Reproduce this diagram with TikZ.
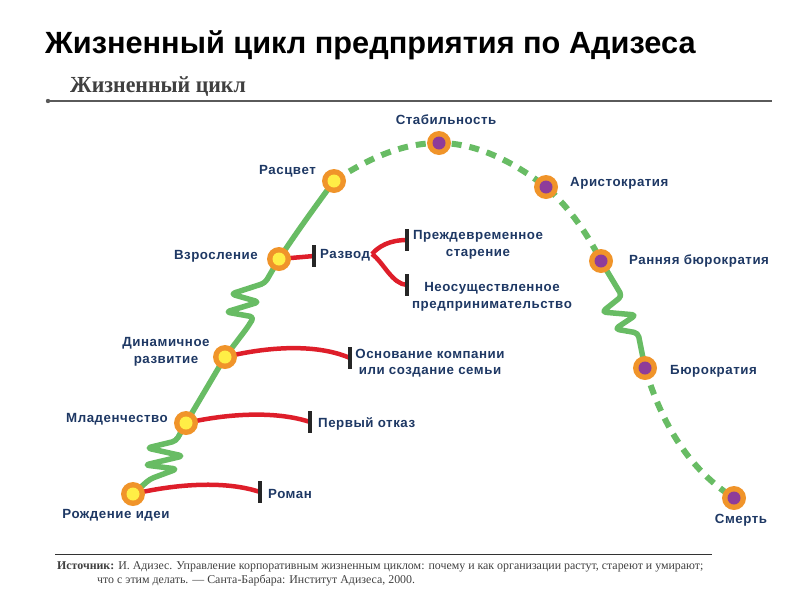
\documentclass[tikz,border=0pt]{standalone}
\usepackage{fontspec}
\setmainfont{Liberation Sans}
\newfontfamily\serifcond{Liberation Serif}
\newfontfamily\serifsub[FakeStretch=0.95]{Liberation Serif}
\newfontfamily\labfont[LetterSpace=4]{Liberation Sans}
\usetikzlibrary{backgrounds}
\definecolor{lgreen}{RGB}{104,188,100}
\definecolor{lorange}{RGB}{240,148,42}
\definecolor{lyellow}{RGB}{255,238,70}
\definecolor{lpurple}{RGB}{142,60,154}
\definecolor{lred}{RGB}{222,30,42}
\definecolor{lnavy}{RGB}{30,56,100}
\definecolor{lgray}{RGB}{90,90,90}
\tikzset{
  young/.style={circle, fill=lorange, minimum size=24pt, inner sep=0pt,
    path picture={\fill[lyellow] (path picture bounding box.center) circle (6.5pt);}},
  old/.style={circle, fill=lorange, minimum size=24pt, inner sep=0pt,
    path picture={\fill[lpurple] (path picture bounding box.center) circle (6.5pt);}},
  lab/.style={text=lnavy, font=\labfont\bfseries\fontsize{13.3}{16.5}\selectfont, inner sep=0pt, align=center},
  greenline/.style={draw=lgreen, line width=5.5pt, line cap=round, line join=round},
  greendash/.style={draw=lgreen, line width=6pt, dash pattern=on 10pt off 8pt},
  redline/.style={draw=lred, line width=4.5pt},
  endbar/.style={fill=black!85, minimum width=3.5pt, minimum height=22pt, inner sep=0pt},
  srctext/.style={anchor=base west, inner sep=0pt, text=black!75, font=\serifcond\fontsize{11.9}{14}\selectfont}
}
\begin{document}
\begin{tikzpicture}[x=1pt,y=-1pt]
\useasboundingbox (0,0) rectangle (800,600);
% title
\node[anchor=base west, inner sep=0pt, font=\bfseries\fontsize{30.7}{33}\selectfont] (title) at (45,53) {Жизненный цикл предприятия по Адизеса};
\node[anchor=base west, inner sep=0pt, text=black!75, font=\serifsub\bfseries\fontsize{23}{25}\selectfont] (subtitle) at (70,92) {Жизненный цикл};
\coordinate (hl1) at (48,101);
\coordinate (hl2) at (772,101);
\draw[lgray, line width=1.2pt] (hl1) -- (hl2);
\fill[lgray] (hl1) circle (2.2pt);
% stages
\node[young] (birth) at (133,494) {};
\node[young] (infant) at (186,423) {};
\node[young] (dyn) at (225,357) {};
\node[young] (adult) at (279,259) {};
\node[young] (prime) at (334,181) {};
\node[old] (stab) at (439,143) {};
\node[old] (arist) at (546,187) {};
\node[old] (early) at (601,261) {};
\node[old] (bureau) at (645,368) {};
\node[old] (death) at (734,498) {};
% end bars
\node[endbar] (razbar) at (314,256) {};
\node[endbar] (prembar) at (407,240) {};
\node[endbar] (unrbar) at (407,285) {};
\node[endbar] (foundbar) at (350,358) {};
\node[endbar] (refbar) at (310,422) {};
\node[endbar] (romanbar) at (260,492) {};
\coordinate (fork) at (372,254);
% connectors on background
\begin{scope}[on background layer]
\draw[greenline, rounded corners=4pt] (birth.center) -- (150,479) -- (177,469) -- (145,465) -- (183,456) -- (147,448) -- (176,441) -- (infant.center);
\draw[greenline] (infant.center) -- (dyn.center);
\draw[greenline, rounded corners=4pt] (dyn.center) -- (247,328) -- (254,317) -- (226,312) -- (259,302) -- (231,294) -- (265,283) -- (adult.center);
\draw[greenline] (adult.center) .. controls (298,230) and (318,203) .. (prime.center);
\draw[greendash] (prime.center) .. controls (372,156) and (405,143) .. (stab.center)
  .. controls (478,143) and (515,163) .. (arist.center)
  .. controls (570,208) and (588,235) .. (early.center);
\draw[greenline, rounded corners=4pt] (early.center) -- (622,296) -- (602,312) -- (636,315) -- (615,329) -- (638,333) -- (bureau.center);
\draw[greendash] (bureau.center) .. controls (662,425) and (690,470) .. (death.center);
% red
\draw[redline] (birth.center) .. controls (185,482) and (230,482) .. (romanbar.center);
\draw[redline] (infant.center) .. controls (235,412) and (280,412) .. (refbar.center);
\draw[redline] (dyn.center) .. controls (275,345) and (320,345) .. (foundbar.center);
\draw[redline] (adult.center) -- (razbar.center);
\draw[redline] (fork) .. controls (379,246) and (390,240) .. (prembar.center);
\draw[redline] (fork) .. controls (384,263) and (392,284) .. (unrbar.center);
\end{scope}
% labels
\node[lab] (lstab) at (446,120) {Стабильность};
\node[lab, anchor=east] (lprime) at (316,171) {Расцвет};
\node[lab, anchor=west] (larist) at (570,183) {Аристократия};
\node[lab, anchor=west] (learly) at (629,261) {Ранняя бюрократия};
\node[lab, anchor=west] (lbureau) at (670,371) {Бюрократия};
\node[lab] (ldeath) at (741,520) {Смерть};
\node[lab] (lbirth) at (116,515) {Рождение идеи};
\node[lab, anchor=east] (linfant) at (168,419) {Младенчество};
\node[lab] (ldyn) at (166,352) {Динамичное\\развитие};
\node[lab, anchor=east] (ladult) at (258,256) {Взросление};
\node[lab, anchor=west] (lraz) at (320,255) {Развод};
\node[lab] (lprem) at (478,245) {Преждевременное\\старение};
\node[lab] (lunr) at (492,297) {Неосуществленное\\предпринимательство};
\node[lab] (lfound) at (430,363) {Основание компании\\или создание семьи};
\node[lab, anchor=west] (lref) at (318,424) {Первый отказ};
\node[lab, anchor=west] (lroman) at (268,494) {Роман};
% footer
\coordinate (fl1) at (55,554);
\coordinate (fl2) at (712,554);
\draw[black!80, line width=0.9pt] (fl1) -- (fl2);
\node[srctext] (src1) at (57,569) {\textbf{Источник:} И. Адизес. Управление корпоративным жизненным циклом: почему и как организации растут, стареют и умирают;};
\node[srctext] (src2) at (97,583) {что с этим делать. — Санта-Барбара: Институт Адизеса, 2000.};
\end{tikzpicture}
\end{document}
